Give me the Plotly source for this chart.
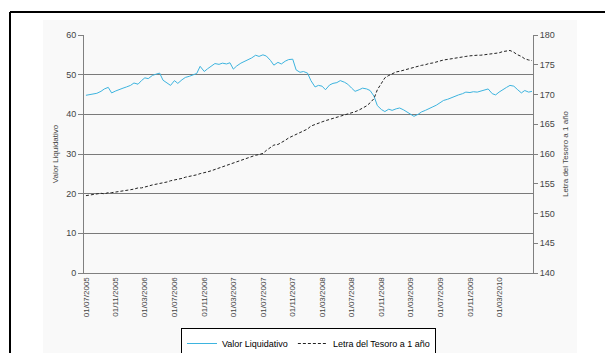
import pandas as pd
import plotly.graph_objects as go

# Semi-monthly observations (1st and 15th of each month), Jul 2005 - Jul 2010
dates = pd.date_range("2005-07-01", periods=122, freq="SMS")

valor_liquidativo = [
    44.8, 45.0, 45.2, 45.3, 45.8, 46.4, 46.8, 45.4, 45.9, 46.3,
    46.6, 46.9, 47.3, 47.9, 47.6, 48.5, 49.2, 49.0, 49.8, 50.1,
    50.4, 48.6, 48.0, 47.3, 48.5, 47.8, 48.7, 49.3, 49.6, 50.0,
    50.3, 52.1, 50.8, 51.5, 52.3, 52.8, 52.6, 52.9, 52.7, 53.0,
    51.4, 52.2, 52.9, 53.3, 53.8, 54.2, 54.9, 54.6, 55.0, 54.7,
    53.6, 52.4, 53.1, 52.7, 53.4, 53.8, 53.9, 51.2, 50.6, 50.8,
    50.4, 48.5, 46.9, 47.3, 47.1, 46.2, 47.4, 47.8, 48.0, 48.5,
    48.1, 47.6, 46.6, 45.8, 46.2, 46.6, 46.4, 46.0, 44.6, 42.2,
    41.2, 40.7, 41.3, 41.0, 41.4, 41.6, 41.1, 40.6, 40.1, 39.5,
    40.0, 40.6, 41.0, 41.5, 41.9, 42.3, 42.9, 43.5, 43.8, 44.2,
    44.5, 44.9, 45.2, 45.6, 45.5, 45.7, 45.6, 45.9, 46.1, 46.4,
    45.2, 44.9, 45.6, 46.2, 46.8, 47.3, 47.1, 46.3, 45.4, 46.0,
    45.6, 45.8,
]

letra_tesoro = [
    153.0, 153.1, 153.2, 153.3, 153.4, 153.3, 153.5, 153.5, 153.6, 153.6,
    153.8, 153.9, 154.0, 154.1, 154.3, 154.3, 154.5, 154.6, 154.8, 154.9,
    155.1, 155.2, 155.3, 155.5, 155.6, 155.8, 155.9, 156.1, 156.2, 156.4,
    156.5, 156.7, 156.8, 157.0, 157.2, 157.4, 157.7, 157.9, 158.1, 158.3,
    158.5, 158.7, 158.9, 159.2, 159.4, 159.6, 159.8, 159.9, 160.1, 160.6,
    161.1, 161.5, 161.6, 161.9, 162.3, 162.7, 163.0, 163.3, 163.6, 163.9,
    164.2, 164.7, 165.0, 165.2, 165.4, 165.6, 165.8, 166.0, 166.2, 166.4,
    166.5, 166.7, 166.9, 167.1, 167.4, 167.7, 168.1, 168.6, 169.3, 170.8,
    172.0, 172.8, 173.2, 173.5, 173.8, 173.9, 174.1, 174.2, 174.4, 174.5,
    174.7, 174.9, 175.0, 175.2, 175.3, 175.5, 175.6, 175.8, 175.9, 176.0,
    176.1, 176.3, 176.4, 176.4, 176.5, 176.6, 176.6, 176.6, 176.7, 176.8,
    176.9, 176.9, 177.0, 177.2, 177.3, 177.4, 177.1, 176.7, 176.4, 176.0,
    175.8, 175.7,
]

tick_dates = pd.date_range("2005-07-01", "2010-03-01", freq="4MS")
tick_labels = [d.strftime("%d/%m/%Y") for d in tick_dates]

FONT = "Liberation Sans, Arial, sans-serif"
W, H = 605, 353
L, R, T, B = 84, 72, 35, 80
PW, PH = W - L - R, H - T - B


def px_x(x):
    return (x - L) / PW


def px_y(y):
    return (H - B - y) / PH


fig = go.Figure()
fig.add_trace(go.Scatter(
    x=dates, y=valor_liquidativo, name="Valor Liquidativo", mode="lines",
    line=dict(color="#3db4df", width=1), yaxis="y",
))
fig.add_trace(go.Scatter(
    x=dates, y=letra_tesoro, name="Letra del Tesoro a 1 año", mode="lines",
    line=dict(color="#222222", width=1, dash="3px,2px"), yaxis="y2",
))

shapes = [
    # light chart area behind the plot
    dict(type="rect", xref="paper", yref="paper", layer="below",
         x0=px_x(43), x1=px_x(577), y0=px_y(20), y1=px_y(360),
         fillcolor="#f9f9f9", line=dict(width=0)),
    # outer frame (top and left edges)
    dict(type="line", xref="paper", yref="paper",
         x0=px_x(10), x1=px_x(610), y0=px_y(12), y1=px_y(12),
         line=dict(color="#000000", width=2)),
    dict(type="line", xref="paper", yref="paper",
         x0=px_x(10), x1=px_x(10), y0=px_y(12), y1=px_y(360),
         line=dict(color="#000000", width=2)),
]

fig.update_layout(
    width=W, height=H,
    margin=dict(l=L, r=R, t=T, b=B, autoexpand=False),
    paper_bgcolor="#ffffff",
    plot_bgcolor="#ffffff",
    font=dict(family=FONT, size=8, color="#333333"),
    showlegend=True,
    legend=dict(
        orientation="h", x=0.5, xanchor="center", y=px_y(328), yanchor="top",
        bgcolor="#ffffff", bordercolor="#000000", borderwidth=1,
        font=dict(family=FONT, size=9, color="#000000"),
        itemwidth=30, tracegroupgap=0,
    ),
    xaxis=dict(
        type="date", range=["2005-06-23", "2010-07-19"],
        tickvals=tick_dates, ticktext=tick_labels, tickangle=-90,
        showgrid=False, showline=True, linecolor="#808080", linewidth=1,
        ticks="", tickfont=dict(size=8, color="#444444"),
        zeroline=False, automargin=False,
    ),
    yaxis=dict(
        range=[0, 60], dtick=10, showgrid=True, gridcolor="#7a7a7a",
        gridwidth=1, showline=True, linecolor="#808080", linewidth=1,
        ticks="outside", ticklen=5, tickcolor="#808080",
        tickfont=dict(size=9, color="#444444"), zeroline=False,
        automargin=False,
        title=dict(text="Valor Liquidativo", standoff=6,
                   font=dict(size=8, color="#444444")),
    ),
    yaxis2=dict(
        range=[140, 180], dtick=5, overlaying="y", side="right",
        showgrid=False, showline=True, linecolor="#808080", linewidth=1,
        ticks="outside", ticklen=4, tickcolor="#808080",
        tickfont=dict(size=9, color="#444444"), zeroline=False,
        automargin=False,
        title=dict(text="Letra del Tesoro a 1 año", standoff=8,
                   font=dict(size=8, color="#444444")),
    ),
    shapes=shapes,
)

fig.write_html("out.html")
